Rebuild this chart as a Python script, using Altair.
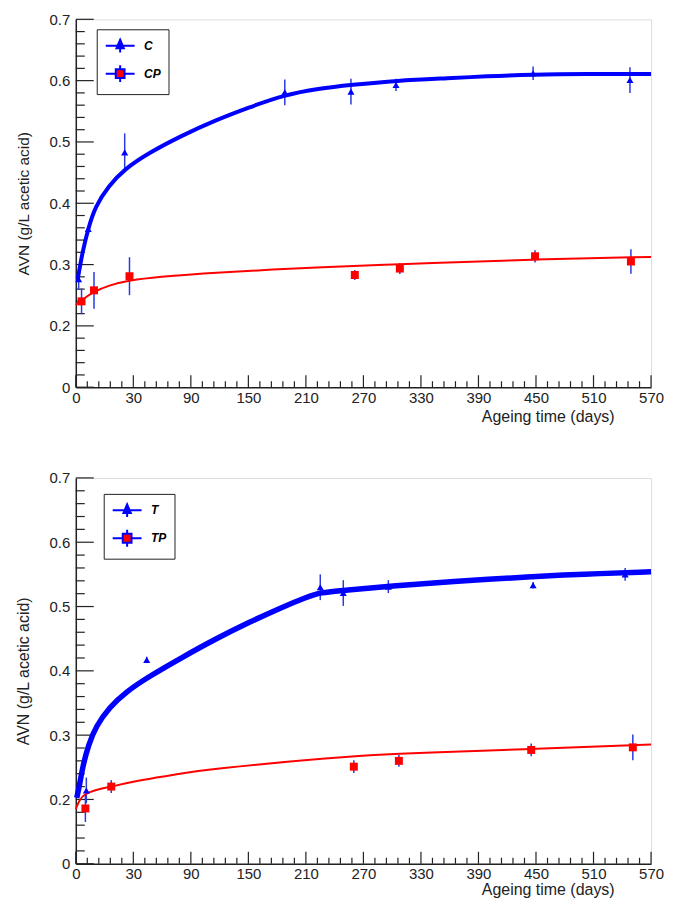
import json
import altair as alt
import pandas as pd

BLUE = '#0000ff'
RED = '#ff0000'
BAR = '#2a3ae0'
INK = '#222222'
FONT = 'Liberation Sans'

# ---------------- axis ticks / labels ----------------
x_tick_values = [-30, 30, 90, 150, 210, 270, 330, 390, 450, 510, 570]
x_tick_labels = ['0', '30', '90', '150', '210', '270', '330', '390', '450', '510', '570']
y_tick_values = [0.1, 0.2, 0.3, 0.4, 0.5, 0.6, 0.7]
y_tick_labels = ['0', '0.2', '0.3', '0.4', '0.5', '0.6', '0.7']
x_minor_values = [v for v in range(-30, 571, 12) if v not in x_tick_values]
y_minor_values = [round(0.1 + 0.02 * i, 2) for i in range(31) if i % 5]

# ---------------- top panel: C / CP ----------------
c_day = [-27, -17, 21, 188, 257, 304, 447, 548]
c_avn = [0.276, 0.358, 0.483, 0.581, 0.582, 0.593, 0.612, 0.601]
c_err = [0.017, 0.005, 0.031, 0.021, 0.021, 0.010, 0.011, 0.021]

cp_day = [-24, -11, 26, 261, 308, 449, 549]
cp_avn = [0.240, 0.258, 0.281, 0.283, 0.2935, 0.3135, 0.305]
cp_err = [0.021, 0.030, 0.031, 0.008, 0.009, 0.010, 0.020]

c_fit_day = [-28, -23, -17, -10, 4, 21, 46, 80, 115, 150, 188, 223, 257, 304, 361, 396, 447, 500, 570]
c_fit_avn = [0.276, 0.321, 0.359, 0.394, 0.428, 0.456, 0.482, 0.510, 0.535, 0.556, 0.577, 0.587,
             0.593, 0.600, 0.604, 0.607, 0.610, 0.611, 0.611]

cp_fit_day = [-30, -24, -11, 4, 26, 56, 108, 240, 296, 327, 450, 570]
cp_fit_avn = [0.234, 0.242, 0.256, 0.266, 0.2745, 0.280, 0.2865, 0.297, 0.300, 0.3016, 0.3086, 0.3125]

# ---------------- bottom panel: T / TP ----------------
t_day = [-19, 44, 225, 249, 296, 447, 543]
t_avn = [0.214, 0.417, 0.530, 0.521, 0.531, 0.533, 0.550]
t_err = [0.020, 0.005, 0.020, 0.020, 0.010, 0.005, 0.010]

tp_day = [-20, 7, 260, 307, 445, 551]
tp_avn = [0.186, 0.220, 0.251, 0.260, 0.277, 0.281]
tp_err = [0.021, 0.010, 0.010, 0.009, 0.010, 0.020]

t_fit_day = [-29, -26, -22.5, -17, -9, 5, 22, 46, 81, 115, 150, 185, 210, 225, 249, 304, 359, 447, 497, 570]
t_fit_avn = [0.2025, 0.223, 0.253, 0.284, 0.314, 0.343, 0.367, 0.391, 0.421, 0.449, 0.475, 0.499,
             0.514, 0.522, 0.525, 0.5325, 0.5386, 0.5466, 0.5503, 0.554]

tp_fit_day = [-30, -26, -21, -12, 7, 39, 74, 108, 242, 304, 325, 445, 570]
tp_fit_avn = [0.185, 0.200, 0.208, 0.214, 0.220, 0.2305, 0.239, 0.247, 0.266, 0.271, 0.272, 0.2786, 0.2853]

# legend symbols: line + error bar + marker (custom paths, 1 unit = 8 px)
LEG_TRI = "M-1.81,0H1.81M0,-0.84V0.84M0,-0.75L0.46,0.33L-0.46,0.33Z"
LEG_SQ = "M-1.81,0H-0.55M0.55,0H1.81M0,-1.06V-0.55M0,0.55V1.06M-0.55,-0.55H0.55V0.55H-0.55Z"

PLOT_W = 577


def label_expr(values, labels):
    return f"{json.dumps(labels)}[indexof({json.dumps(values)}, datum.value)]"


def panel(names, series, fits, height, legend_xy, ytitle_fs, xtitle_y, thick):
    width = PLOT_W
    xs = alt.Scale(domain=[-30, 570], nice=False, zero=False)
    ys = alt.Scale(domain=[0.1, 0.7], nice=False, zero=False)
    xaxis = alt.Axis(values=x_tick_values, labelExpr=label_expr(x_tick_values, x_tick_labels),
                     ticks=False, grid=False, labelFlush=False, labelPadding=3,
                     labelFont=FONT, labelFontSize=15, labelColor=INK,
                     domainColor=INK, domainWidth=1.5,
                     titleFont=FONT, titleFontSize=16, titleFontWeight='normal', titleColor=INK,
                     titleX=width - 37, titleY=xtitle_y, titleAlign='right', titleBaseline='middle')
    yaxis = alt.Axis(values=y_tick_values, labelExpr=label_expr(y_tick_values, y_tick_labels),
                     ticks=False, grid=False, labelPadding=6,
                     labelFont=FONT, labelFontSize=15, labelColor=INK,
                     domainColor=INK, domainWidth=1.5,
                     titleFont=FONT, titleFontSize=ytitle_fs, titleFontWeight='normal', titleColor=INK,
                     titleX=-52, titleY=height / 2, titleAngle=270,
                     titleAlign='center', titleBaseline='middle')
    X = alt.X('day:Q', scale=xs, axis=xaxis, title='Ageing time (days)')
    Y = alt.Y('avn:Q', scale=ys, axis=yaxis, title='AVN (g/L acetic acid)')

    layers = []
    # inward ticks
    layers.append(alt.Chart(pd.DataFrame({'day': x_tick_values})).mark_rule(color=INK, strokeWidth=1.2)
                  .encode(x=X, y=alt.value(height), y2=alt.value(height - 12)))
    layers.append(alt.Chart(pd.DataFrame({'day': x_minor_values})).mark_rule(color=INK, strokeWidth=1.2)
                  .encode(x=X, y=alt.value(height), y2=alt.value(height - 6)))
    layers.append(alt.Chart(pd.DataFrame({'avn': y_tick_values})).mark_rule(color=INK, strokeWidth=1.2)
                  .encode(y=Y, x=alt.value(0), x2=alt.value(18)))
    layers.append(alt.Chart(pd.DataFrame({'avn': y_minor_values})).mark_rule(color=INK, strokeWidth=1.2)
                  .encode(y=Y, x=alt.value(0), x2=alt.value(9)))

    frames = []
    for name, (d, v, e) in zip(names, series):
        df = pd.DataFrame({'day': d, 'avn': v,
                           'lo': [a - b for a, b in zip(v, e)], 'hi': [a + b for a, b in zip(v, e)]})
        df['series'] = name
        frames.append(df)
        layers.append(alt.Chart(df).mark_rule(color=BAR, strokeWidth=1.5).encode(
            x=X, y=alt.Y('lo:Q', scale=ys, axis=yaxis, title='AVN (g/L acetic acid)'), y2='hi:Q'))
    for (fd, fv), col, w in zip(fits, [BLUE, RED], [thick, 2]):
        layers.append(alt.Chart(pd.DataFrame({'day': fd, 'avn': fv}))
                      .mark_line(color=col, strokeWidth=w, interpolate='basis')
                      .encode(x=X, y=Y))
    for df, shape, col, size in zip(frames, ['triangle-up', 'square'], [BLUE, RED], [50, 64]):
        layers.append(alt.Chart(df).mark_point(shape=shape, filled=True, color=col, size=size, opacity=1)
                      .encode(x=X, y=Y))

    leg = alt.Legend(orient='none', legendX=legend_xy[0], legendY=legend_xy[1], direction='vertical',
                     symbolSize=256, symbolStrokeWidth=2,
                     labelFont=FONT, labelFontSize=12, labelFontWeight='bold', labelFontStyle='italic',
                     labelColor='black', strokeColor=INK, fillColor='white', padding=7.5,
                     rowPadding=4, labelOffset=15, symbolOffset=7, cornerRadius=0)
    allpts = pd.concat(frames, ignore_index=True)
    layers.append(alt.Chart(allpts).transform_filter('false')
                  .mark_point(filled=True, opacity=1, stroke=BLUE, strokeWidth=2).encode(
        x=X, y=Y,
        fill=alt.Fill('series:N', scale=alt.Scale(domain=names, range=[BLUE, RED]), legend=leg, title=None),
        shape=alt.Shape('series:N', scale=alt.Scale(domain=names, range=[LEG_TRI, LEG_SQ]), legend=leg,
                        title=None),
    ))
    return alt.layer(*layers).properties(width=width, height=height)


top = panel(['C', 'CP'],
            [(c_day, c_avn, c_err), (cp_day, cp_avn, cp_err)],
            [(c_fit_day, c_fit_avn), (cp_fit_day, cp_fit_avn)],
            369, (21, 10), 15.5, 29, 4)
bottom = panel(['T', 'TP'],
               [(t_day, t_avn, t_err), (tp_day, tp_avn, tp_err)],
               [(t_fit_day, t_fit_avn), (tp_fit_day, tp_fit_avn)],
               387, (28, 16), 16, 26, 5.5)

chart = alt.vconcat(top, bottom, spacing=45).resolve_scale(
    x='independent', y='independent', fill='independent', shape='independent'
).properties(padding={'left': 7, 'top': 2, 'right': 0, 'bottom': 0}).configure_view(
    stroke='#888888', strokeWidth=1.2
).configure(background='white')

chart.save("out.html", embed_options={"renderer": "svg", "actions": False})
